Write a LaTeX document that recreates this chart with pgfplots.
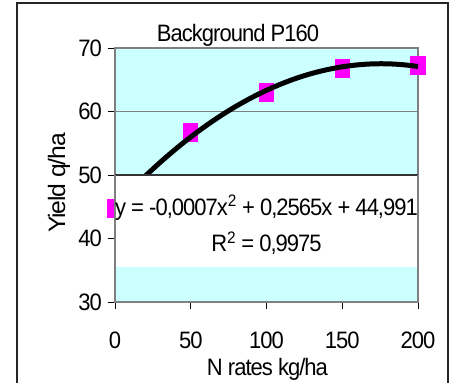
\documentclass[border=0pt]{standalone}
\usepackage{fontspec}
\setmainfont{Liberation Sans}[LetterSpace=-4.5]
\usepackage{graphicx}
\usepackage{pgfplots}
\pgfplotsset{compat=1.18}
\definecolor{plotbg}{HTML}{CCFFFF}
\definecolor{mag}{HTML}{FF00FF}
\newcommand{\vs}[1]{\scalebox{1}[1.08]{#1}}
\newcommand{\bigf}{\fontsize{22bp}{26bp}\selectfont}
\begin{document}
\begin{tikzpicture}
\useasboundingbox (-115bp,-81bp) rectangle (334bp,302bp);
\fill[white] (-115bp,-81bp) rectangle (334bp,302bp);
\draw[black!85, line width=1.2bp] (-98bp,-90bp) -- (-98bp,299bp) -- (333bp,299bp) -- (333bp,-90bp);
\begin{axis}[
  at={(0,0)}, anchor=south west,
  width=303bp, height=254bp, scale only axis,
  xmin=0, xmax=200, ymin=30, ymax=70,
  xtick={0,50,100,150,200}, ytick={30,40,50,60,70},
  axis background/.style={fill=plotbg},
  axis line style={draw=black!50, line width=1.6bp},
  ymajorgrids, major grid style={draw=black!50, line width=1.2bp},
  tick align=outside, major tick length=7bp,
  xtick pos=bottom, ytick pos=left,
  tick style={black, line width=1bp},
  /pgf/number format/assume math mode=true,
  tick label style={font=\bigf, inner sep=0pt},
  xticklabel={\vs{\pgfmathprintnumber{\tick}}},
  yticklabel={\vs{\pgfmathprintnumber{\tick}}},
  xticklabel style={anchor=north},
  xticklabel shift=23bp,
  yticklabel shift=6bp,
  xlabel={\vs{N rates kg/ha}},
  xlabel style={at={(axis description cs:0.503,-0.291)}, anchor=base, inner sep=0pt, font=\bigf},
  ylabel={\scalebox{1.12}[1.08]{Yield q/ha}},
  ylabel style={at={(axis description cs:-0.165,0.4685)}, anchor=base, inner sep=0pt, font=\bigf},
  clip=false, clip marker paths=true,
]
\addplot[mag, only marks, mark=square*, mark size=9bp, mark options={xscale=0.78, fill=mag, draw=mag, line width=0pt}]
  coordinates {(0,44.7) (50,56.7) (100,63.0) (150,66.8) (200,67.2)};
\addplot[black, line width=5bp, smooth]
  coordinates {(0,44.99) (10,47.48) (20,49.83) (30,52.03) (40,54.08) (50,55.99) (60,57.75) (70,59.37) (80,60.84) (90,62.16) (100,63.34) (110,64.37) (120,65.26) (130,66.00) (140,66.59) (150,67.04) (160,67.34) (170,67.50) (180,67.51) (190,67.37) (200,67.09)};
\fill[white] (axis cs:0,35.5) rectangle (axis cs:200,49.9);
\draw[black!80, line width=1.2bp] (axis cs:0,50) -- (axis cs:200,50);
\draw[black!50, line width=1.6bp] (axis cs:0,35.4) -- (axis cs:0,50);
\draw[black!50, line width=1.6bp] (axis cs:200,35.4) -- (axis cs:200,50);
\node[anchor=base, inner sep=0pt, font=\bigf] at (axis cs:100,43.7) {\vs{y = -0,0007x\textsuperscript{2} + 0,2565x + 44,991}};
\node[anchor=base, inner sep=0pt, font=\bigf] at (axis cs:100,37.9) {\vs{R\textsuperscript{2} = 0,9975}};
\end{axis}
\node[anchor=base, inner sep=0pt, font=\bigf] at (123bp,260.3bp) {\vs{Background P160}};
\end{tikzpicture}
\end{document}
